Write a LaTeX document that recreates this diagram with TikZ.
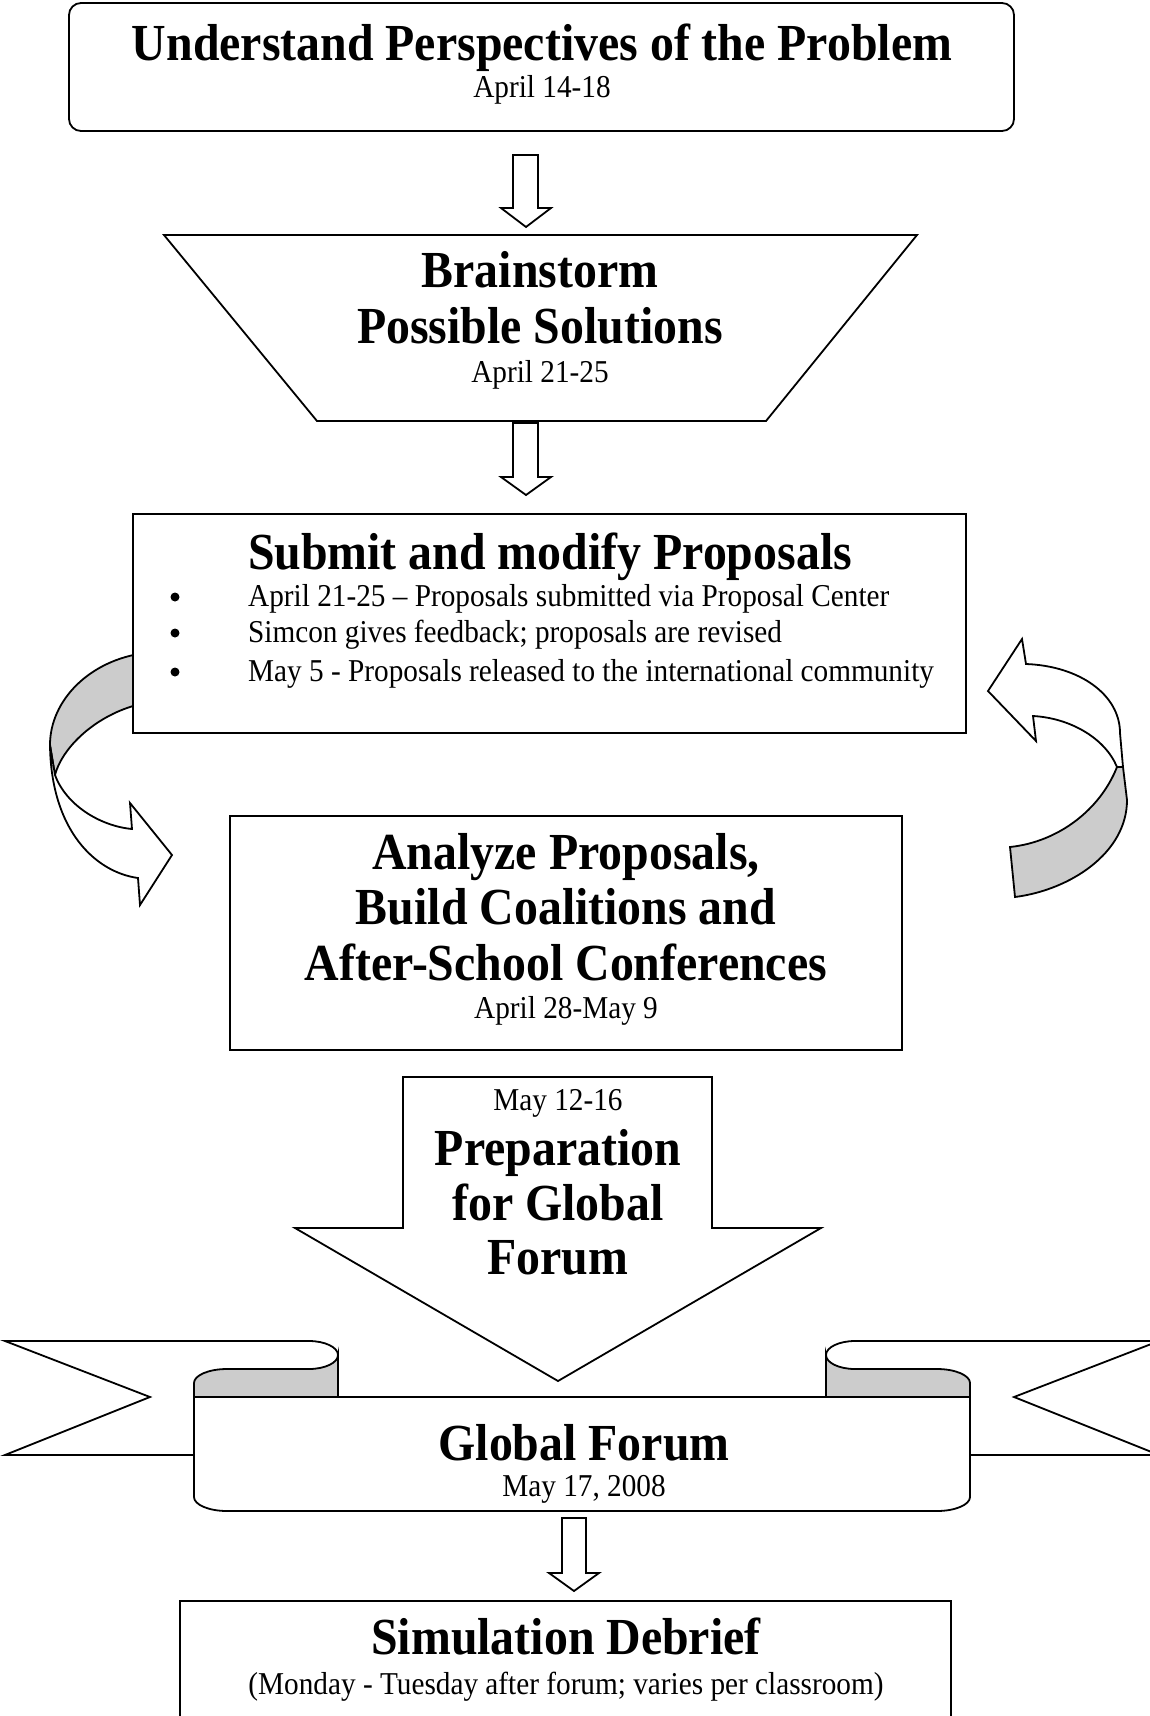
\documentclass[tikz,border=0pt]{standalone}
\usepackage{fontspec}
\setmainfont{Liberation Serif}[FakeStretch=0.92]
\usepackage{tikz}
\colorlet{fold color}{black!20}
\tikzset{outline/.style={line width=1.8pt, line join=miter}}
\tikzset{panel/.style={outline, fill=white}}
\tikzset{fold/.style={outline, fill=fold color}}
\tikzset{heading/.style={anchor=base, inner sep=0pt, font=\fontsize{52}{60}\selectfont\bfseries}}
\tikzset{dates/.style={anchor=base, inner sep=0pt, font=\fontsize{31.8}{38}\selectfont}}
\tikzset{bulletdot/.style={circle, fill, inner sep=0pt, minimum size=9pt}}

\begin{document}
\begin{tikzpicture}[x=1pt, y=-1pt]
    \useasboundingbox (0,0) rectangle (1150,1716);

    % understand the problem
    \draw[panel, rounded corners=12pt] (69,3) rectangle (1014,131);
    \node[heading] (perspectives) at (542,60) {Understand Perspectives of the Problem};
    \node[dates] (perspectivesdate) at (542,97) {April 14-18};
    \draw[panel] (513,155) -- (538,155) -- (538,208) -- (551,208) -- (526,227) -- (501,208) -- (513,208) -- cycle;

    % brainstorm
    \draw[panel] (164,235) -- (917,235) -- (766,421) -- (317,421) -- cycle;
    \node[heading] (brainstorm) at (540,287) {Brainstorm};
    \node[heading] (solutions) at (540,343) {Possible Solutions};
    \node[dates] (brainstormdate) at (540,382) {April 21-25};
    \draw[panel] (513,423) -- (538,423) -- (538,477) -- (551,477) -- (526,495) -- (501,477) -- (513,477) -- cycle;

    % loop between proposals and coalitions
    \draw[fold] (145,653) .. controls (90,660) and (50,700) .. (50,745) -- (55,775) .. controls (63,745) and (100,712) .. (145,703) -- cycle;
    \draw[panel] (50,745) .. controls (51,830) and (95,872) .. (138,878) -- (140,905) -- (172,855) -- (130,803) -- (132,829) .. controls (100,826) and (66,805) .. (55,775) -- cycle;
    \draw[panel] (1026,664) -- (1022,639) -- (988,691) -- (1036,741) -- (1033,716) .. controls (1070,718) and (1105,738) .. (1117,767) -- (1123,767) -- (1120,733) .. controls (1120,695) and (1080,666) .. (1026,664) -- cycle;
    \draw[fold] (1117,767) -- (1123,767) -- (1127,800) .. controls (1127,853) and (1070,890) .. (1015,897) -- (1010,847) .. controls (1058,842) and (1100,810) .. (1117,767) -- cycle;

    % proposals
    \draw[panel] (133,514) rectangle (966,733);
    \node[heading] (proposals) at (550,569) {Submit and modify Proposals};
    \foreach \i/\y/\txt in {1/606/{April 21-25 – Proposals submitted via Proposal Center},
                            2/642/{Simcon gives feedback; proposals are revised},
                            3/681/{May 5 - Proposals released to the international community}} {
        \node[bulletdot] (dot\i) at (175,\y-9) {};
        \node[dates, anchor=base west] (item\i) at (248,\y) {\txt};
    }

    % coalitions
    \draw[panel] (230,816) rectangle (902,1050);
    \node[heading] (analyze) at (566,869) {Analyze Proposals,};
    \node[heading] (coalitions) at (566,924) {Build Coalitions and};
    \node[heading] (conferences) at (566,980) {After-School Conferences};
    \node[dates] (analyzedate) at (566,1018) {April 28-May 9};

    % preparation arrow
    \draw[panel] (403,1077) -- (712,1077) -- (712,1228) -- (821,1228) -- (558,1381) -- (295,1228) -- (403,1228) -- cycle;
    \node[dates] (preparationdate) at (558,1110) {May 12-16};
    \node[heading] (preparation) at (558,1165) {Preparation};
    \node[heading] (forglobal) at (558,1220) {for Global};
    \node[heading] (forum) at (558,1274) {Forum};

    % global forum banner
    \draw[panel] (5,1341) -- (309,1341) .. controls (325,1341) and (338,1347.3) .. (338,1355) -- (338,1455) -- (5,1455) -- (150,1397) -- cycle;
    \draw[panel] (1159,1341) -- (855,1341) .. controls (839,1341) and (826,1347.3) .. (826,1355) -- (826,1455) -- (1159,1455) -- (1014,1397) -- cycle;
    \draw[panel] (194,1397) -- (194,1497) .. controls (194,1504.7) and (208.8,1511) .. (227,1511) -- (937,1511) .. controls (955.2,1511) and (970,1504.7) .. (970,1497) -- (970,1397) -- cycle;
    \draw[fold] (338,1355) .. controls (338,1362.7) and (325,1369) .. (309,1369) -- (227,1369) .. controls (208.8,1369) and (194,1375.3) .. (194,1383) -- (194,1397) -- (338,1397) -- cycle;
    \draw[fold] (826,1355) .. controls (826,1362.7) and (839,1369) .. (855,1369) -- (937,1369) .. controls (955.2,1369) and (970,1375.3) .. (970,1383) -- (970,1397) -- (826,1397) -- cycle;
    \node[heading] (globalforum) at (584,1460) {Global Forum};
    \node[dates] (forumdate) at (584,1496) {May 17, 2008};
    \draw[panel] (562,1518) -- (586,1518) -- (586,1573) -- (599,1573) -- (574,1591) -- (549,1573) -- (562,1573) -- cycle;

    % debrief
    \draw[panel] (180,1601) rectangle (951,1740);
    \node[heading] (debrief) at (566,1654) {Simulation Debrief};
    \node[dates] (debriefdate) at (566,1694) {(Monday - Tuesday after forum; varies per classroom)};
\end{tikzpicture}
\end{document}
